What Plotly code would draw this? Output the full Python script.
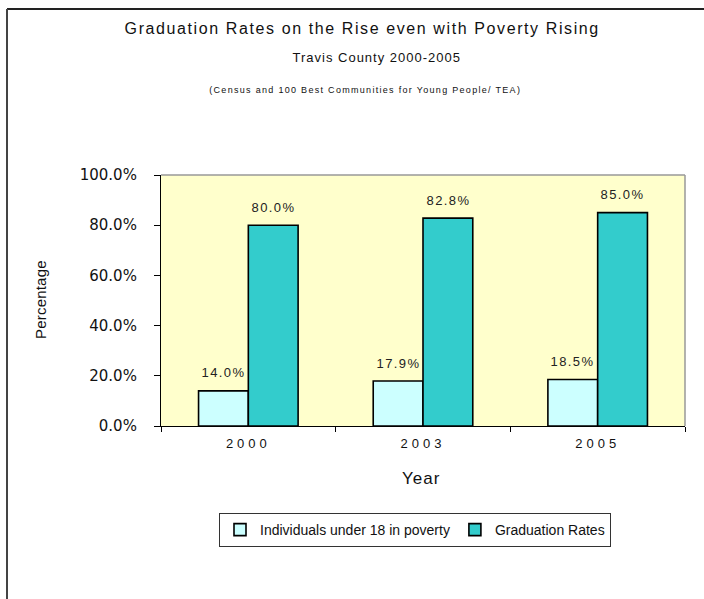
import plotly.graph_objects as go

years = ["2000", "2003", "2005"]
poverty = [14.0, 17.9, 18.5]
graduation = [80.0, 82.8, 85.0]
series_names = ["Individuals under 18 in poverty", "Graduation Rates"]
y_ticks = [0, 20, 40, 60, 80, 100]
y_tick_text = ["0.0%", "20.0%", "40.0%", "60.0%", "80.0%", "100.0%"]

FONT = "Liberation Sans, Arial, sans-serif"

L, R, T, B = 161, 19, 175, 173
W, H = 704, 599
PW, PH = W - L - R, H - T - B


def px(x):
    return (x - L) / PW


def py(y):
    return (H - B - y) / PH


fig = go.Figure()
fig.add_trace(go.Bar(
    x=years, y=poverty, name=series_names[0],
    marker=dict(color="#CCFFFF", line=dict(color="black", width=1.6)),
))
fig.add_trace(go.Bar(
    x=years, y=graduation, name=series_names[1],
    marker=dict(color="#33CCCC", line=dict(color="black", width=1.6)),
))

annotations = [
    dict(text="Graduation Rates on the Rise even with Poverty Rising", x=px(362), y=py(28),
         xref="paper", yref="paper", showarrow=False, xanchor="center", yanchor="middle",
         font=dict(family=FONT, size=16, color="#111")),
    dict(text="Travis County 2000-2005", x=px(377), y=py(57),
         xref="paper", yref="paper", showarrow=False, xanchor="center", yanchor="middle",
         font=dict(family=FONT, size=13, color="#111")),
    dict(text="(Census and 100 Best Communities for Young People/ TEA)", x=px(365), y=py(90),
         xref="paper", yref="paper", showarrow=False, xanchor="center", yanchor="middle",
         font=dict(family=FONT, size=9, color="#111")),
    dict(text="Percentage", x=px(40), y=py(300), textangle=-90,
         xref="paper", yref="paper", showarrow=False, xanchor="center", yanchor="middle",
         font=dict(family=FONT, size=15, color="#111")),
    dict(text="Year", x=px(421), y=py(478),
         xref="paper", yref="paper", showarrow=False, xanchor="center", yanchor="middle",
         font=dict(family=FONT, size=17, color="#111")),
]
for i, v in enumerate(poverty):
    annotations.append(dict(text=f"{v:.1f}%", x=i, y=v, xref="x", yref="y",
                            xshift=-25, yshift=18, showarrow=False,
                            xanchor="center", yanchor="middle",
                            font=dict(family=FONT, size=13, color="#222")))
for i, v in enumerate(graduation):
    annotations.append(dict(text=f"{v:.1f}%", x=i, y=v, xref="x", yref="y",
                            xshift=25, yshift=18, showarrow=False,
                            xanchor="center", yanchor="middle",
                            font=dict(family=FONT, size=13, color="#222")))

fig.update_layout(
    width=W, height=H,
    margin=dict(l=L, r=R, t=T, b=B, autoexpand=False),
    paper_bgcolor="white", plot_bgcolor="#FFFFCC",
    barmode="group", bargap=0.43, bargroupgap=0,
    font=dict(family=FONT, color="#111"),
    showlegend=True,
    legend=dict(orientation="h", x=px(415), y=py(530), xanchor="center", yanchor="middle",
                bordercolor="#333", borderwidth=1, bgcolor="white",
                font=dict(family=FONT, size=14, color="#111"),
                itemwidth=30),
    xaxis=dict(
        type="category", categoryorder="array", categoryarray=years,
        range=[-0.5, len(years) - 0.5], autorange=False,
        showline=True, linecolor="black", linewidth=1.2,
        ticks="outside", ticklen=5, tickcolor="black", tickson="boundaries",
        tickangle=0, ticklabelstandoff=5,
        tickfont=dict(family=FONT, size=13, color="#111"),
    ),
    yaxis=dict(
        range=[0, 100], autorange=False, tickvals=y_ticks, ticktext=y_tick_text,
        showgrid=False, zeroline=False,
        showline=True, linecolor="black", linewidth=1.2,
        ticks="outside", ticklen=6, tickcolor="black",
        ticklabelstandoff=14,
        tickfont=dict(family="DejaVu Sans, sans-serif", size=15, color="#111"),
    ),
    annotations=annotations,
    shapes=[
        dict(type="line", xref="paper", yref="paper", x0=0, x1=1, y0=1, y1=1,
             line=dict(color="#999", width=1.5)),
        dict(type="line", xref="paper", yref="paper", x0=1, x1=1, y0=0, y1=1,
             line=dict(color="#999", width=1.5)),
        dict(type="line", xref="paper", yref="paper", x0=px(7), x1=px(710), y0=py(9), y1=py(9),
             line=dict(color="#222", width=2)),
        dict(type="line", xref="paper", yref="paper", x0=px(7), x1=px(7), y0=py(9), y1=py(605),
             line=dict(color="#444", width=2)),
    ],
)

post = """
document.body.style.margin = '0';
var st = document.createElement('style');
st.textContent = `
.xtick text { letter-spacing: 4px; }
.annotation text { letter-spacing: 1.4px; }
.annotation[data-index="0"] text { letter-spacing: 1.6px; }
.annotation[data-index="1"] text { letter-spacing: 1px; }
.annotation[data-index="2"] text { letter-spacing: 1.3px; }
.annotation[data-index="3"] text { letter-spacing: 0.2px; }
.annotation[data-index="4"] text { letter-spacing: 1px; }
`;
document.head.appendChild(st);
"""

fig.write_html("out.html", post_script=post, config={"displayModeBar": False})
